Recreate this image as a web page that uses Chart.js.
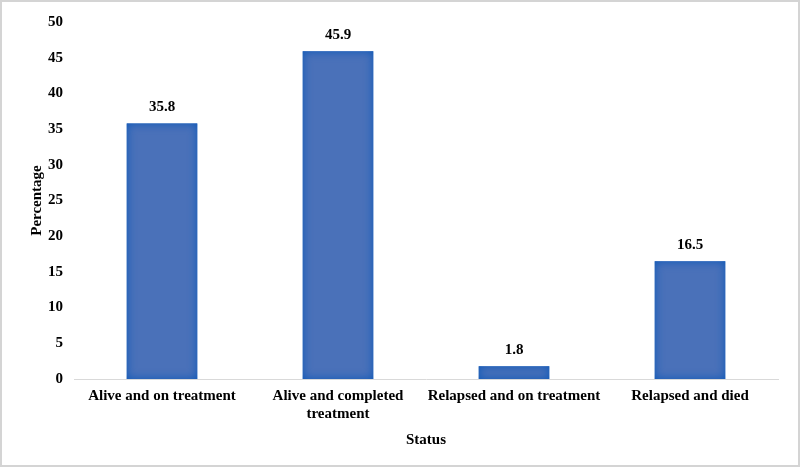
<!DOCTYPE html>
<html>
<head>
<meta charset="utf-8">
<script src="https://cdn.jsdelivr.net/npm/chart.js@4.4.0/dist/chart.umd.min.js"></script>
<style>
  html, body { margin: 0; padding: 0; background: #fff; }
  #wrap { width: 800px; height: 467px; box-sizing: border-box; border: 2px solid #d4d4d4; position: relative; background: #fff; }
  canvas { display: block; }
</style>
</head>
<body>
<div id="wrap"><canvas id="c"></canvas></div>
<script>
const categories = ["Alive and on treatment", ["Alive and completed", "treatment"], "Relapsed and on treatment", "Relapsed and died"];
const percentages = [35.8, 45.9, 1.8, 16.5];
const yTicks = [0, 5, 10, 15, 20, 25, 30, 35, 40, 45, 50];
const xTitle = "Status";
const yTitle = "Percentage";

const FONT = "'Liberation Serif', 'Times New Roman', serif";

const glowPlugin = {
  id: 'glow',
  afterDatasetsDraw(chart) {
    const ctx = chart.ctx;
    chart.getDatasetMeta(0).data.forEach(bar => {
      const left = bar.x - bar.width / 2, right = bar.x + bar.width / 2;
      const top = Math.min(bar.y, bar.base), bottom = Math.max(bar.y, bar.base);
      ctx.save();
      ctx.beginPath();
      ctx.rect(left, top, right - left, bottom - top);
      ctx.clip();
      ctx.beginPath();
      ctx.rect(left - 40, top - 40, right - left + 80, bottom - top + 80);
      ctx.rect(left, top, right - left, bottom - top);
      ctx.shadowColor = '#0c58b8';
      ctx.shadowBlur = 10;
      ctx.fillStyle = '#0c58b8';
      ctx.fill('evenodd');
      ctx.restore();
    });
  }
};

const labelPlugin = {
  id: 'vals',
  afterDatasetsDraw(chart) {
    const ctx = chart.ctx;
    ctx.save();
    ctx.font = "bold 15px " + FONT;
    ctx.fillStyle = '#000';
    ctx.textAlign = 'center';
    ctx.textBaseline = 'bottom';
    chart.getDatasetMeta(0).data.forEach((bar, i) => {
      ctx.fillText(percentages[i].toFixed(1), bar.x, bar.y - 9);
    });
    ctx.restore();
  }
};

new Chart(document.getElementById('c'), {
  type: 'bar',
  data: {
    labels: categories,
    datasets: [{
      data: percentages,
      backgroundColor: '#4a71b9',
      borderWidth: 0,
      categoryPercentage: 1,
      barPercentage: 0.4
    }]
  },
  options: {
    responsive: true,
    maintainAspectRatio: false,
    animation: false,
    devicePixelRatio: 1,
    layout: { padding: { left: 22, right: 20, top: 11, bottom: 12 } },
    plugins: { legend: { display: false }, tooltip: { enabled: false } },
    scales: {
      x: {
        grid: { display: false, drawTicks: false },
        border: { display: true, color: '#d9d9d9', width: 1 },
        ticks: { color: '#000', font: { family: FONT, size: 15, weight: 'bold' }, padding: 8, maxRotation: 0, autoSkip: false },
        title: { display: true, text: xTitle, color: '#000', font: { family: FONT, size: 15, weight: 'bold' }, padding: { top: 0 } }
      },
      y: {
        min: 0, max: 50,
        afterBuildTicks(scale) { scale.ticks = yTicks.map(v => ({ value: v })); },
        afterFit(scale) { scale.width = 50; },
        grid: { display: false, drawTicks: false },
        border: { display: false },
        ticks: { color: '#000', font: { family: FONT, size: 15, weight: 'bold' }, padding: 11 },
        title: { display: true, text: yTitle, color: '#000', font: { family: FONT, size: 15, weight: 'bold' }, padding: { top: 4, bottom: 2 } }
      }
    }
  },
  plugins: [glowPlugin, labelPlugin]
});
</script>
</body>
</html>
